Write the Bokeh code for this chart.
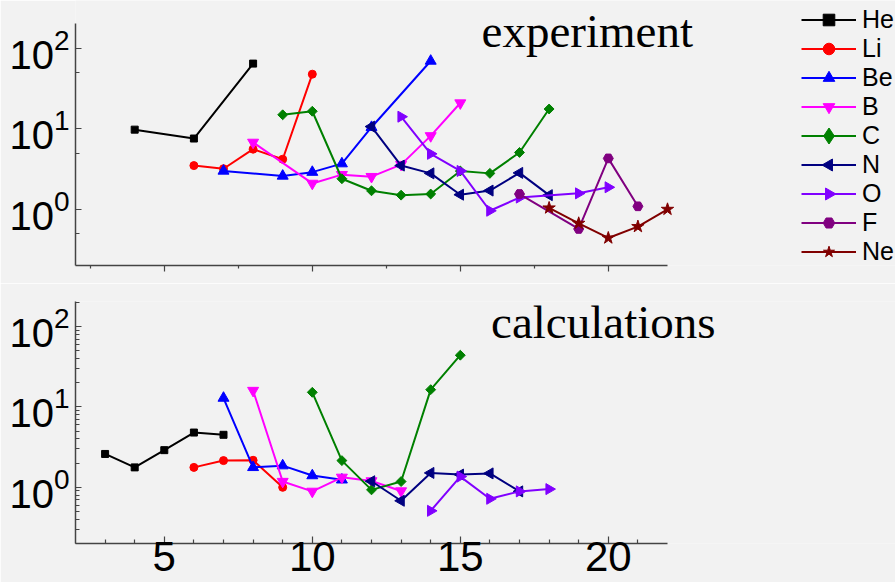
import numpy as np
from bokeh.plotting import figure
from bokeh.models import Range1d, FixedTicker, Legend, LegendItem, Label
from bokeh.layouts import column
from bokeh.embed import file_html
from bokeh.resources import INLINE

# ---- data: ratio vs. atomic number, per element ----
elements = ["He", "Li", "Be", "B", "C", "N", "O", "F", "Ne"]

# experiment
he_exp_x = [4, 6, 8]
he_exp_y = [9.8, 7.6, 65]
li_exp_x = [6, 7, 8, 9, 10]
li_exp_y = [3.5, 3.2, 5.6, 4.2, 48]
be_exp_x = [7, 9, 10, 11, 12, 14]
be_exp_y = [3.0, 2.6, 2.9, 3.7, 10.5, 70]
b_exp_x = [8, 10, 11, 12, 13, 14, 15]
b_exp_y = [6.8, 2.1, 2.7, 2.55, 3.6, 8.2, 21]
c_exp_x = [9, 10, 11, 12, 13, 14, 15, 16, 17, 18]
c_exp_y = [15, 16.6, 2.4, 1.7, 1.5, 1.55, 3.0, 2.8, 5.1, 17.7]
n_exp_x = [12, 13, 14, 15, 16, 17, 18]
n_exp_y = [10.7, 3.5, 2.8, 1.52, 1.71, 2.84, 1.5]
o_exp_x = [13, 14, 15, 16, 17, 19, 20]
o_exp_y = [14.2, 4.9, 3.0, 0.96, 1.4, 1.58, 1.88]
f_exp_x = [17, 19, 20, 21]
f_exp_y = [1.55, 0.57, 4.3, 1.09]
ne_exp_x = [18, 19, 20, 21, 22]
ne_exp_y = [1.04, 0.67, 0.44, 0.61, 1.0]

# calculations
he_calc_x = [3, 4, 5, 6, 7]
he_calc_y = [2.6, 1.77, 2.9, 4.8, 4.5]
li_calc_x = [6, 7, 8, 9]
li_calc_y = [1.77, 2.15, 2.17, 1.0]
be_calc_x = [7, 8, 9, 10, 11]
be_calc_y = [12.9, 1.77, 1.86, 1.4, 1.24]
b_calc_x = [8, 9, 10, 11, 12, 13]
b_calc_y = [16, 1.18, 0.89, 1.33, 1.2, 0.9]
c_calc_x = [10, 11, 12, 13, 14, 15]
c_calc_y = [15.2, 2.15, 0.93, 1.18, 16.4, 44]
n_calc_x = [12, 13, 14, 15, 16, 17]
n_calc_y = [1.19, 0.68, 1.51, 1.44, 1.49, 0.89]
o_calc_x = [14, 15, 16, 17, 18]
o_calc_y = [0.51, 1.36, 0.72, 0.89, 0.95]

major_x = [5, 10, 15, 20]
decades = [1, 10, 100]

exp_series = {
    "He": (he_exp_x, he_exp_y), "Li": (li_exp_x, li_exp_y), "Be": (be_exp_x, be_exp_y),
    "B": (b_exp_x, b_exp_y), "C": (c_exp_x, c_exp_y), "N": (n_exp_x, n_exp_y),
    "O": (o_exp_x, o_exp_y), "F": (f_exp_x, f_exp_y), "Ne": (ne_exp_x, ne_exp_y),
}
calc_series = {
    "He": (he_calc_x, he_calc_y), "Li": (li_calc_x, li_calc_y), "Be": (be_calc_x, be_calc_y),
    "B": (b_calc_x, b_calc_y), "C": (c_calc_x, c_calc_y), "N": (n_calc_x, n_calc_y),
    "O": (o_calc_x, o_calc_y),
}

# ---- styling ----
BG = "#f2f2f2"
AXIS = "#444444"
SANS = "Liberation Sans"
SERIF = "Liberation Serif"

style = {
    "He": dict(color="#000000", marker="square", angle=0.0, size=7),
    "Li": dict(color="#ff0000", marker="circle", angle=0.0, size=8),
    "Be": dict(color="#0000ff", marker="triangle", angle=0.0, size=11),
    "B":  dict(color="#ff00ff", marker="inverted_triangle", angle=0.0, size=11),
    "C":  dict(color="#008000", marker="square", angle=np.pi / 4, size=7),
    "N":  dict(color="#000080", marker="triangle", angle=np.pi / 2, size=11),
    "O":  dict(color="#8000ff", marker="triangle", angle=-np.pi / 2, size=11),
    "F":  dict(color="#800080", marker="hex", angle=0.0, size=10),
    "Ne": dict(color="#800000", marker="star", angle=0.0, size=13),
}
# The legend draws markers unrotated at a fixed size, so these entries get
# their own legend marker: (marker, angle, size)
legend_marker = {
    "C": ("diamond", 0.0, 16),
    "N": ("triangle", np.pi / 2, 12),
    "O": ("triangle", -np.pi / 2, 12),
}

# Axes occupy x in [2, 22] and y in [0.2, 205] (log) over a 592 x 242 px box;
# the plotting frame is larger so that the headings and the legend can sit
# beside the axes, and the axis lines are bounded to the data box.
X0, X1 = 2, 22
Y0, Y1 = 0.2, 205
BOX_W, BOX_H = 592, 242
FRAME_W = 820
EXTRA_TOP = 23
DEC_PX = BOX_H / np.log10(Y1 / Y0)          # pixels per decade
x_end = X1 + (FRAME_W - BOX_W) * (X1 - X0) / BOX_W
y_end_top = Y1 * 10 ** (EXTRA_TOP / DEC_PX)

x_range = Range1d(X0, x_end)

# legend geometry (screen px, relative to the frame's bottom-left corner)
LEG_X, LEG_Y = 726, -1
LEG_GLYPH_W, LEG_ROW = 55, 29


def style_axes(p):
    p.grid.visible = False
    for ax in (p.xaxis[0], p.yaxis[0]):
        ax.axis_line_color = AXIS
        ax.axis_line_width = 1.5
        ax.major_tick_line_color = AXIS
        ax.minor_tick_line_color = AXIS
        ax.major_tick_line_width = 1.2
        ax.minor_tick_line_width = 1.2
        ax.major_label_text_color = "#000000"
        ax.major_label_text_font = SANS
    p.xaxis.bounds = (X0, X1)
    p.yaxis.bounds = (Y0, Y1)
    yax = p.yaxis[0]
    yax.major_tick_in = 6
    yax.major_tick_out = 0
    yax.minor_tick_in = 4
    yax.minor_tick_out = 0
    yax.major_label_text_font_size = "40px"
    yax.major_label_standoff = 6


def draw(p, series):
    rend = {}
    for name, (xs, ys) in series.items():
        st = style[name]
        ln = p.line(xs, ys, line_color=st["color"], line_width=2)
        sc = p.scatter(xs, ys, marker=st["marker"], angle=st["angle"], size=st["size"],
                       fill_color=st["color"], line_color=st["color"])
        rend[name] = [ln, sc]
    return rend


# ---- top panel: experiment ----
top = figure(width=895, height=283, x_range=x_range,
             y_range=Range1d(Y0, y_end_top), y_axis_type="log",
             output_backend="svg", toolbar_location=None,
             min_border_left=75, min_border_right=0,
             min_border_top=0, min_border_bottom=18,
             background_fill_color=BG, border_fill_color=BG,
             outline_line_color=None)
style_axes(top)
top.xaxis.ticker = FixedTicker(ticks=major_x, minor_ticks=[2.5, 7.5, 12.5, 17.5])
top.xaxis.major_tick_in = 0
top.xaxis.major_tick_out = 6
top.xaxis.minor_tick_in = 0
top.xaxis.minor_tick_out = 3
top.xaxis.major_label_overrides = {v: "" for v in major_x}
top.xaxis.major_label_text_font_size = "8px"
top.xaxis.major_label_standoff = 0
top.yaxis.ticker = FixedTicker(ticks=decades, minor_ticks=[5 * d for d in [0.1] + decades[:2]])
exp_r = draw(top, exp_series)
top.add_layout(Label(x=15.72, y=166, text="experiment", text_font=SERIF,
                     text_font_size="47px", text_color="#000000",
                     text_baseline="alphabetic"))

legend = Legend(
    items=[LegendItem(label=name,
                      renderers=exp_r[name][:1] if name in legend_marker else exp_r[name])
           for name in elements],
    location=(LEG_X, LEG_Y), padding=0, spacing=0, margin=0,
    glyph_width=LEG_GLYPH_W, glyph_height=LEG_ROW, label_height=LEG_ROW, label_standoff=6,
    label_text_font=SANS, label_text_font_size="25px", label_text_color="#000000",
    background_fill_alpha=0, border_line_alpha=0,
)
top.add_layout(legend)

leg_h = LEG_ROW * len(elements)
for name, (mk, ang, sz) in legend_marker.items():
    i = elements.index(name)
    sx = LEG_X + LEG_GLYPH_W / 2
    sy = LEG_Y + leg_h - LEG_ROW * (i + 0.5)
    color = style[name]["color"]
    top.scatter([X0 + sx * (X1 - X0) / BOX_W], [Y0 * 10 ** (sy / DEC_PX)],
                marker=mk, angle=ang, size=sz, fill_color=color, line_color=color)

# ---- bottom panel: calculations ----
bottom = figure(frame_width=FRAME_W, frame_height=BOX_H, x_range=x_range,
                y_range=Range1d(Y0, Y1), y_axis_type="log",
                output_backend="svg", toolbar_location=None,
                min_border_left=75, min_border_right=0,
                min_border_top=18, min_border_bottom=39,
                background_fill_color=BG, border_fill_color=BG,
                outline_line_color=None)
style_axes(bottom)
bottom.xaxis.ticker = FixedTicker(ticks=major_x,
                                  minor_ticks=[v for v in range(3, 22) if v not in major_x])
bottom.xaxis.major_tick_in = 7
bottom.xaxis.major_tick_out = 0
bottom.xaxis.minor_tick_in = 4
bottom.xaxis.minor_tick_out = 0
bottom.xaxis.major_label_text_font_size = "42px"
bottom.xaxis.major_label_standoff = -2
bottom.yaxis.ticker = FixedTicker(
    ticks=decades,
    minor_ticks=[k * d for d in [0.1] + decades for k in range(2, 10)])
draw(bottom, calc_series)
bottom.add_layout(Label(x=16.04, y=115, text="calculations", text_font=SERIF,
                        text_font_size="47px", text_color="#000000",
                        text_baseline="alphabetic"))

layout = column(top, bottom, spacing=0)
open("out.html", "w").write(file_html(layout, INLINE))
